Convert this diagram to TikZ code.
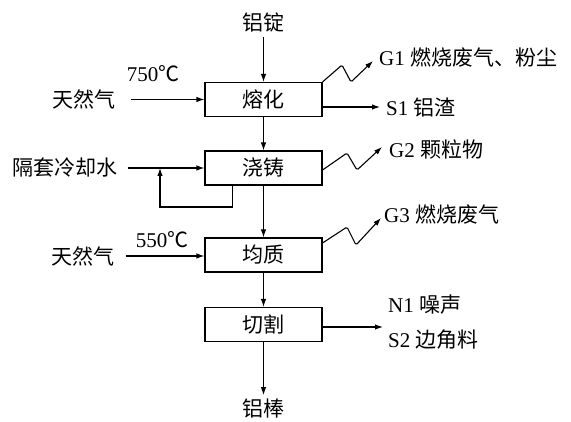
\documentclass[tikz,border=0pt]{standalone}
\usepackage{fontspec}
\setmainfont{Liberation Serif}
\newfontfamily\cjk{Noto Sans CJK SC}
\usetikzlibrary{arrows.meta}
\begin{document}
\begin{tikzpicture}[x=1pt,y=-1pt,
  box/.style={draw, line width=1.1pt, minimum width=117pt, minimum height=34pt, inner sep=0pt, font=\cjk\fontsize{21}{23}\selectfont},
  txt/.style={inner sep=1pt, font=\fontsize{21}{23}\selectfont},
  lbl/.style={txt, anchor=west},
  arr/.style={-{Latex[length=8pt,width=5.5pt]}, line width=1.1pt},
  wave/.style={arr, rounded corners=1.5pt}]
\useasboundingbox (0,0) rectangle (571,422);
% process boxes
\node[box] (melt) at (263.5,99.5) {熔化};
\node[box] (cast) at (263.5,168) {浇铸};
\node[box] (homo) at (263.5,255) {均质};
\node[box] (cut)  at (263.5,324.5) {切割};
% input / output texts
\node[txt] (ingot) at (263.5,22) {\cjk 铝锭};
\node[txt] (rod) at (263.5,409) {\cjk 铝棒};
\node[txt] (gas1) at (84,99.5) {\cjk 天然气};
\node[txt] (t1) at (153,74) {750{\cjk ℃}};
\node[txt] (cool) at (65,168) {\cjk 隔套冷却水};
\node[txt] (gas2) at (83,256) {\cjk 天然气};
\node[txt] (t2) at (162,240) {550{\cjk ℃}};
\node[lbl] (g1) at (378,58) {G1 {\cjk 燃烧废气、粉尘}};
\node[lbl] (s1) at (385,107) {S1 {\cjk 铝渣}};
\node[lbl] (g2) at (388,150) {G2 {\cjk 颗粒物}};
\node[lbl] (g3) at (383,215) {G3 {\cjk 燃烧废气}};
\node[lbl] (n1) at (387,305) {N1 {\cjk 噪声}};
\node[lbl] (s2) at (387,340) {S2 {\cjk 边角料}};
\coordinate (cutout) at (383,327);
\coordinate (lb) at (160,207);
% main flow
\draw[arr, shorten <=4pt] (ingot.south) -- (melt.north);
\draw[arr] (melt.south) -- (cast.north);
\draw[arr] (cast.south) -- (homo.north);
\draw[arr] (homo.south) -- (cut.north);
\draw[arr] (cut.south) -- ([yshift=3pt]rod.north);
% inputs
\draw[arr, shorten <=14pt] (gas1) -- (melt);
\draw[arr, shorten <=9pt] (cool) -- (cast);
\draw[arr, shorten <=10pt] (gas2.east |- homo.west) ++(0,1) -- ([yshift=-1pt]homo.west);
\draw[arr] ([xshift=28pt]cast.south west) |- (lb) -- (lb |- cast.west);
% outputs
\draw[arr, shorten >=5pt] (melt.east |- s1.west) -- (s1.west);
\draw[arr] (cut.east |- cutout) -- (cutout);
\draw[wave] (melt.north east) -- (342,65) -- (351,82) -- (373,61);
\draw[wave] ([yshift=-2pt]cast.east) -- (347,153) -- (357,170) -- (382,147);
\draw[wave] ([yshift=12pt]homo.east) -- (347,227) -- (356,245) -- (381,218);
\end{tikzpicture}
\end{document}
